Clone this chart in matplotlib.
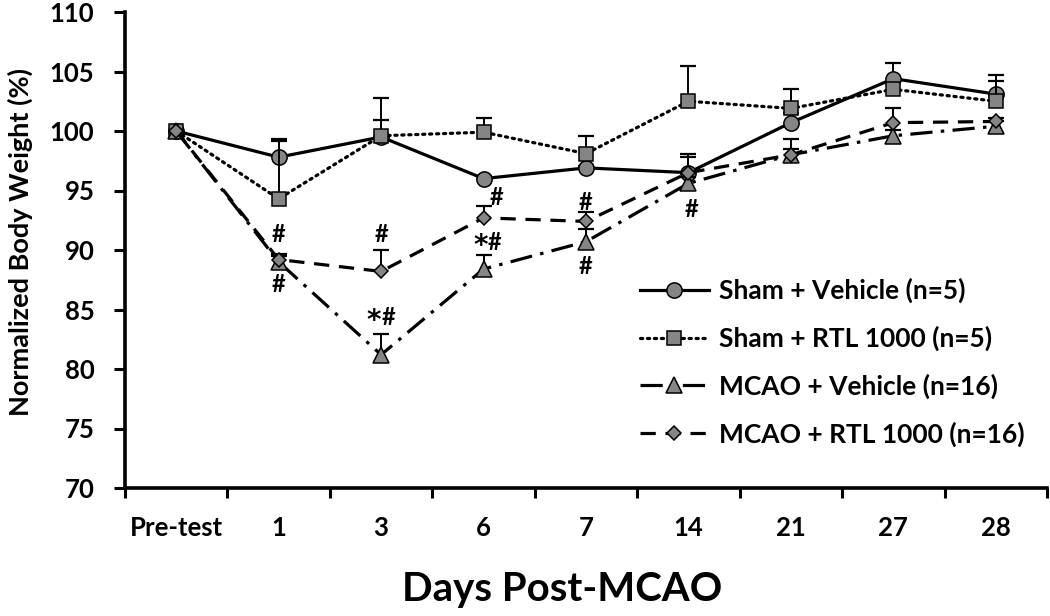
import matplotlib
matplotlib.use("Agg")
import matplotlib.pyplot as plt
import numpy as np

plt.rcParams['font.family'] = ['Lato', 'DejaVu Sans']
plt.rcParams['font.weight'] = 'bold'
plt.rcParams['lines.scale_dashes'] = False

categories = ["Pre-test", "1", "3", "6", "7", "14", "21", "27", "28"]
series_names = ["Sham + Vehicle (n=5)", "Sham + RTL 1000 (n=5)",
                "MCAO + Vehicle (n=16)", "MCAO + RTL 1000 (n=16)"]
sham_vehicle = [100, 97.8, 99.5, 96.0, 96.9, 96.5, 100.7, 104.4, 103.1]
sham_vehicle_err = [0, 1.5, 1.4, 0.2, 0.2, 1.3, 0.8, 1.3, 1.6]
sham_rtl = [100, 94.3, 99.6, 99.9, 98.1, 102.5, 101.9, 103.5, 102.5]
sham_rtl_err = [0, 4.9, 3.2, 1.2, 1.5, 3.0, 1.6, 0.5, 1.7]
mcao_vehicle = [100, 89.0, 81.2, 88.4, 90.7, 95.6, 98.0, 99.6, 100.4]
mcao_vehicle_err = [0, 0.5, 1.7, 1.2, 1.1, 0.5, 0.5, 0.5, 0.4]
mcao_rtl = [100, 89.2, 88.2, 92.7, 92.4, 96.5, 98.0, 100.7, 100.8]
mcao_rtl_err = [0, 0.5, 1.8, 1.0, 0.8, 1.6, 1.3, 1.2, 0.3]

# significance annotations: (category index, y value, text)
annotations = [
    (1, 91.3, "#"), (1, 87.1, "#"),
    (2, 91.3, "#"), (2, 84.3, "*#"),
    (3.13, 94.4, "#"), (3.04, 90.6, "*#"),
    (4, 94.0, "#"), (4, 88.6, "#"),
    (5.03, 93.4, "#"),
]

fig = plt.figure(figsize=(10.5, 6.16), dpi=100)
ax = fig.add_axes([125/1050, 1-488/616, (1047-125)/1050, (488-12)/616])

x = np.arange(len(categories))
gray = '#858585'
styles = [
    dict(marker='o', ms=11, ls='-'),
    dict(marker='s', ms=10, ls=(0, (1.6, 3.4)), dash_capstyle='round'),
    dict(marker='^', ms=11, ls=(0, (16, 6, 2.5, 6))),
    dict(marker='D', ms=7.5, ls=(0, (11, 7))),
]
data = [(sham_vehicle, sham_vehicle_err), (sham_rtl, sham_rtl_err),
        (mcao_vehicle, mcao_vehicle_err), (mcao_rtl, mcao_rtl_err)]

handles = []
for i, ((vals, errs), st) in enumerate(zip(data, styles)):
    vals = np.array(vals); errs = np.array(errs)
    z = 3 + i
    ax.errorbar(x, vals, yerr=[np.zeros_like(errs), errs], fmt='none',
                ecolor='black', elinewidth=1.4, capsize=0, zorder=z)
    ax.plot(x[errs > 0], (vals + errs)[errs > 0], ls='none', marker='_',
            ms=11, mew=1.6, color='black', zorder=z)
    h, = ax.plot(x, vals, color='black', lw=2.3, mfc=gray, mec='black',
                 mew=1.1, zorder=z + 0.5, label=series_names[i], **st)
    handles.append(h)

for xi, yv, t in annotations:
    if t.startswith('*'):
        ax.text(xi - 0.07, yv - 0.3, '*', ha='center', va='center', fontsize=20,
                fontweight='bold', family='DejaVu Sans')
        ax.text(xi + 0.07, yv, '#', ha='center', va='center', fontsize=17,
                fontweight='bold')
    else:
        ax.text(xi, yv, t, ha='center', va='center', fontsize=17, fontweight='bold')

ax.set_xlim(-0.5, len(categories) - 0.5)
ax.set_ylim(70, 110)
ax.set_yticks(np.arange(70, 111, 5))
ax.set_xticks(np.arange(-0.5, len(categories) - 0.4, 1))
ax.set_xticklabels([])
ax.set_xticks(x, minor=True)
ax.set_xticklabels(categories, minor=True)
ax.tick_params(axis='x', which='minor', length=0, pad=20, labelsize=18.5)
ax.tick_params(axis='x', which='major', length=7, width=2.2, direction='out')
ax.tick_params(axis='y', length=8, width=2.2, direction='out', pad=14, labelsize=18.5)
for lab in ax.get_xticklabels(minor=True) + ax.get_yticklabels():
    lab.set_fontweight('bold')
for s in ['top', 'right']:
    ax.spines[s].set_visible(False)
for s in ['left', 'bottom']:
    ax.spines[s].set_linewidth(2.6)

fig.text(562/1050, 1-590/616, "Days Post-MCAO", ha='center', va='center',
         fontsize=29, fontweight='bold')
fig.text(20/1050, 1-242/616, "Normalized Body Weight (%)", ha='center', va='center',
         rotation=90, fontsize=19.5, fontweight='bold')

leg = ax.legend(handles=handles, loc='upper left', bbox_to_anchor=(640/1050, 1-278/616),
                bbox_transform=fig.transFigure, frameon=False, fontsize=19,
                handlelength=2.6, handletextpad=0.4, labelspacing=0.85,
                borderpad=0, borderaxespad=0)
for t in leg.get_texts():
    t.set_fontweight('bold')

fig.savefig("out.png", dpi=100)
